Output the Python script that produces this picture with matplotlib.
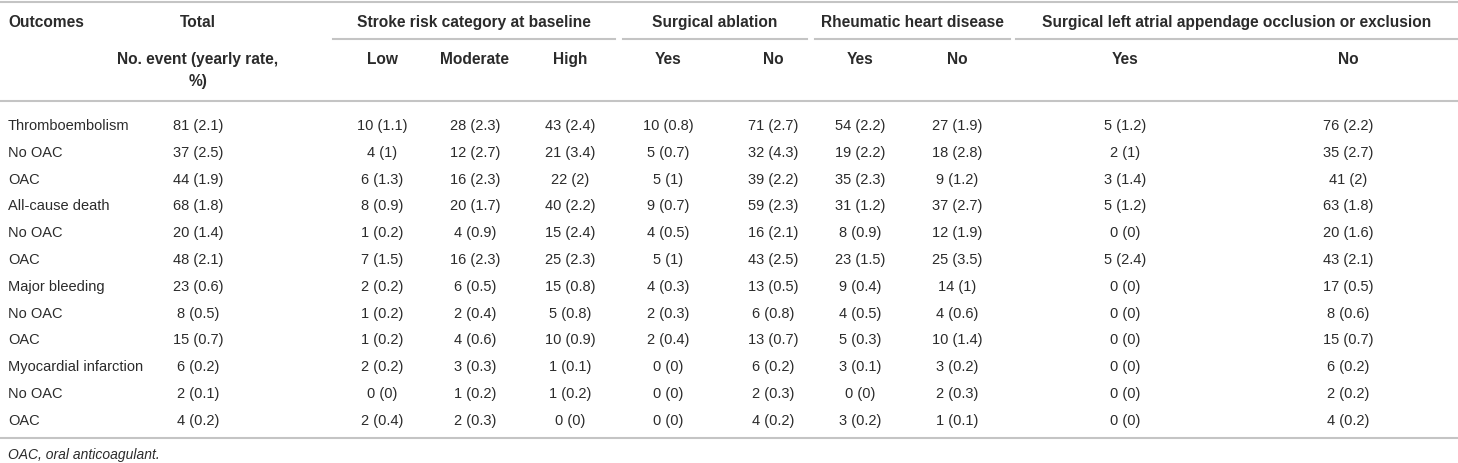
import matplotlib.pyplot as plt

plt.rcParams['font.family'] = ['Liberation Sans', 'DejaVu Sans']

# Datos de la tabla
outcomes = ['Thromboembolism', 'No OAC', 'OAC', 'All-cause death', 'No OAC', 'OAC',
            'Major bleeding', 'No OAC', 'OAC', 'Myocardial infarction', 'No OAC', 'OAC']
total = ['81 (2.1)', '37 (2.5)', '44 (1.9)', '68 (1.8)', '20 (1.4)', '48 (2.1)',
         '23 (0.6)', '8 (0.5)', '15 (0.7)', '6 (0.2)', '2 (0.1)', '4 (0.2)']
risk_low = ['10 (1.1)', '4 (1)', '6 (1.3)', '8 (0.9)', '1 (0.2)', '7 (1.5)',
            '2 (0.2)', '1 (0.2)', '1 (0.2)', '2 (0.2)', '0 (0)', '2 (0.4)']
risk_mod = ['28 (2.3)', '12 (2.7)', '16 (2.3)', '20 (1.7)', '4 (0.9)', '16 (2.3)',
            '6 (0.5)', '2 (0.4)', '4 (0.6)', '3 (0.3)', '1 (0.2)', '2 (0.3)']
risk_high = ['43 (2.4)', '21 (3.4)', '22 (2)', '40 (2.2)', '15 (2.4)', '25 (2.3)',
             '15 (0.8)', '5 (0.8)', '10 (0.9)', '1 (0.1)', '1 (0.2)', '0 (0)']
abl_yes = ['10 (0.8)', '5 (0.7)', '5 (1)', '9 (0.7)', '4 (0.5)', '5 (1)',
           '4 (0.3)', '2 (0.3)', '2 (0.4)', '0 (0)', '0 (0)', '0 (0)']
abl_no = ['71 (2.7)', '32 (4.3)', '39 (2.2)', '59 (2.3)', '16 (2.1)', '43 (2.5)',
          '13 (0.5)', '6 (0.8)', '13 (0.7)', '6 (0.2)', '2 (0.3)', '4 (0.2)']
rhd_yes = ['54 (2.2)', '19 (2.2)', '35 (2.3)', '31 (1.2)', '8 (0.9)', '23 (1.5)',
           '9 (0.4)', '4 (0.5)', '5 (0.3)', '3 (0.1)', '0 (0)', '3 (0.2)']
rhd_no = ['27 (1.9)', '18 (2.8)', '9 (1.2)', '37 (2.7)', '12 (1.9)', '25 (3.5)',
          '14 (1)', '4 (0.6)', '10 (1.4)', '3 (0.2)', '2 (0.3)', '1 (0.1)']
laa_yes = ['5 (1.2)', '2 (1)', '3 (1.4)', '5 (1.2)', '0 (0)', '5 (2.4)',
           '0 (0)', '0 (0)', '0 (0)', '0 (0)', '0 (0)', '0 (0)']
laa_no = ['76 (2.2)', '35 (2.7)', '41 (2)', '63 (1.8)', '20 (1.6)', '43 (2.1)',
          '17 (0.5)', '8 (0.6)', '15 (0.7)', '6 (0.2)', '2 (0.2)', '4 (0.2)']

groups = ['Stroke risk category at baseline', 'Surgical ablation',
          'Rheumatic heart disease', 'Surgical left atrial appendage occlusion or exclusion']
subheads = ['Low', 'Moderate', 'High', 'Yes', 'No', 'Yes', 'No', 'Yes', 'No']
footnote = 'OAC, oral anticoagulant.'

# Layout (pixel units, y = baseline)
W, H = 1458, 463
col_x = [382, 475, 570, 668, 773, 860, 957, 1125, 1348]
total_x = 198
group_span = [(333, 615), (623, 807), (815, 1010), (1016, 1458)]
row_y0, row_dy = 130, 26.8
txt = '#2b2b2b'
line_c = '#c4c4c4'
fs = 10.5
fs_h = 11.2

fig = plt.figure(figsize=(W / 100, H / 100), dpi=100)
ax = fig.add_axes([0, 0, 1, 1])
ax.set_xlim(0, W)
ax.set_ylim(H, 0)
ax.axis('off')

# Lines
ax.plot([0, W], [2, 2], color=line_c, lw=1.5)
ax.plot([0, W], [101, 101], color=line_c, lw=1.5)
for x0, x1 in group_span:
    ax.plot([x0, x1], [39, 39], color=line_c, lw=1.5)
bottom_y = 438
ax.plot([0, W], [bottom_y, bottom_y], color=line_c, lw=1.5)

# Header
hdr = dict(fontsize=fs_h, fontweight='bold', color=txt, va='baseline')
ax.text(8, 27, 'Outcomes', ha='left', **hdr)
ax.text(total_x, 27, 'Total', ha='center', **hdr)
for g, (x0, x1) in zip(groups, group_span):
    ax.text((x0 + x1) / 2, 27, g, ha='center', **hdr)
ax.text(total_x, 64, 'No. event (yearly rate,', ha='center', **hdr)
ax.text(total_x, 86, '%)', ha='center', **hdr)
for x, s in zip(col_x, subheads):
    ax.text(x, 64, s, ha='center', **hdr)

# Body
body = dict(fontsize=fs, color=txt, va='baseline')
columns = [risk_low, risk_mod, risk_high, abl_yes, abl_no, rhd_yes, rhd_no, laa_yes, laa_no]
for i, name in enumerate(outcomes):
    y = row_y0 + row_dy * i
    ax.text(8, y, name, ha='left', **body)
    ax.text(total_x, y, total[i], ha='center', **body)
    for x, col in zip(col_x, columns):
        ax.text(x, y, col[i], ha='center', **body)

ax.text(8, 459, footnote, ha='left', va='baseline', fontsize=fs * 0.95,
        style='italic', color=txt)

plt.savefig('out.png', dpi=100)
